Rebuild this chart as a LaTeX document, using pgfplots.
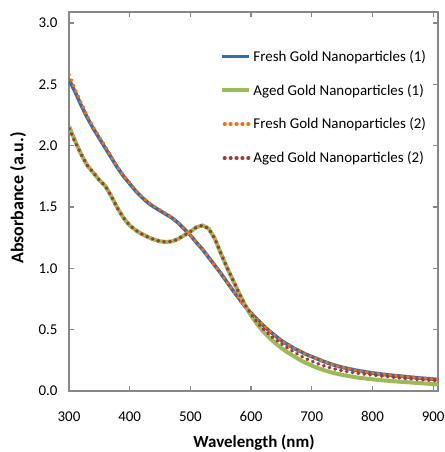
\documentclass[border=0pt]{standalone}
\usepackage{pgfplots}
\pgfplotsset{compat=1.18}
\usepackage{fontspec}
\setmainfont{Carlito}

\definecolor{freshblue}{HTML}{3B69AC}
\definecolor{agedgreen}{HTML}{9BBB59}
\definecolor{freshorange}{HTML}{EE7014}
\definecolor{agedred}{HTML}{A23A3A}
\definecolor{axisgray}{HTML}{878787}

\tikzset{rounddots/.style={line width=3.6bp, line cap=round, dash pattern=on 0.5bp off 5.4bp}}

\begin{document}
\begin{tikzpicture}[x=1bp,y=1bp]
\useasboundingbox (0,0) rectangle (445,452);
\begin{axis}[
  name=ax,
  at={(69bp,61bp)}, anchor=south west,
  scale only axis,
  width=369bp, height=379bp,
  xmin=300, xmax=908,
  ymin=0, ymax=3.09,
  xtick={300,400,...,900},
  ytick={0,0.5,...,3.0},
  y tick label style={/pgf/number format/fixed, /pgf/number format/fixed zerofill, /pgf/number format/precision=1},
  /pgf/number format/assume math mode=true,
  tick label style={font=\fontsize{15}{18}\selectfont, text=black},
  xticklabel shift=17bp,
  yticklabel shift=8bp,
  axis line style={axisgray, line width=1.5bp},
  every tick/.style={axisgray, line width=1.2bp},
  major tick length=5bp,
  tick align=inside,
  legend style={draw=none, fill=none, at={(axis description cs:0.41,0.905)}, anchor=north west,
    font=\fontsize{15}{17}\selectfont, row sep=17.5bp, inner sep=0pt,
    /tikz/every even column/.append style={column sep=2bp}},
  legend cell align=left,
]
% Fresh gold nanoparticles, sample 1
\addplot[freshblue, line width=3.6bp,
  legend image code/.code={\draw[freshblue, line width=3.6bp] (0bp,0bp) -- (27bp,0bp);}]
coordinates {
(300,2.54) (310,2.44) (320,2.33) (330,2.23) (340,2.14) (350,2.06) (360,1.98) (370,1.90)
(380,1.82) (390,1.75) (400,1.69) (410,1.63) (420,1.58) (430,1.535) (440,1.50) (450,1.47)
(460,1.44) (470,1.41) (480,1.37) (490,1.32) (500,1.27) (510,1.21) (520,1.155) (530,1.09)
(540,1.025) (550,0.96) (560,0.89) (570,0.82) (580,0.755) (590,0.69) (600,0.635) (610,0.585)
(620,0.535) (630,0.49) (640,0.45) (650,0.41) (660,0.38) (670,0.35) (680,0.325) (690,0.30)
(700,0.28) (710,0.26) (720,0.24) (730,0.222) (740,0.207) (750,0.193) (775,0.167) (800,0.147)
(825,0.131) (850,0.119) (875,0.107) (900,0.097) (910,0.093)
};
\addlegendentry{Fresh Gold Nanoparticles (1)}
% Aged gold nanoparticles, sample 1
\addplot[agedgreen, line width=4bp,
  legend image code/.code={\draw[agedgreen, line width=4bp] (0bp,0bp) -- (27bp,0bp);}]
coordinates {
(300,2.16) (310,2.04) (320,1.93) (330,1.84) (340,1.78) (350,1.72) (360,1.67) (370,1.585)
(380,1.49) (390,1.41) (400,1.35) (410,1.31) (420,1.28) (430,1.255) (440,1.235) (450,1.22)
(460,1.215) (470,1.22) (480,1.24) (490,1.27) (500,1.30) (510,1.335) (520,1.35) (530,1.325)
(540,1.245) (550,1.125) (560,1.01) (570,0.905) (580,0.80) (590,0.70) (600,0.615) (610,0.545)
(620,0.485) (630,0.435) (640,0.39) (650,0.35) (660,0.315) (670,0.285) (680,0.255) (690,0.23)
(700,0.207) (710,0.187) (720,0.17) (730,0.155) (740,0.142) (750,0.131) (775,0.11) (800,0.095)
(825,0.083) (850,0.074) (875,0.065) (900,0.056) (910,0.053)
};
\addlegendentry{Aged Gold Nanoparticles (1)}
% Fresh gold nanoparticles, sample 2
\addplot[freshorange, rounddots,
  legend image code/.code={\draw[freshorange, rounddots] (2bp,0bp) -- (27bp,0bp);}]
coordinates {
(300,2.58) (310,2.46) (320,2.35) (330,2.24) (340,2.15) (350,2.07) (360,1.99) (370,1.905)
(380,1.825) (390,1.755) (400,1.695) (410,1.635) (420,1.585) (430,1.54) (440,1.505) (450,1.475)
(460,1.445) (470,1.41) (480,1.37) (490,1.32) (500,1.27) (510,1.21) (520,1.155) (530,1.09)
(540,1.025) (550,0.96) (560,0.89) (570,0.82) (580,0.755) (590,0.69) (600,0.635) (610,0.585)
(620,0.535) (630,0.49) (640,0.45) (650,0.41) (660,0.38) (670,0.35) (680,0.325) (690,0.30)
(700,0.28) (710,0.26) (720,0.24) (730,0.222) (740,0.207) (750,0.193) (775,0.167) (800,0.147)
(825,0.131) (850,0.119) (875,0.107) (900,0.097) (910,0.093)
};
\addlegendentry{Fresh Gold Nanoparticles (2)}
% Aged gold nanoparticles, sample 2
\addplot[agedred, rounddots,
  legend image code/.code={\draw[agedred, rounddots] (2bp,0bp) -- (27bp,0bp);}]
coordinates {
(300,2.14) (310,2.03) (320,1.93) (330,1.84) (340,1.78) (350,1.72) (360,1.67) (370,1.585)
(380,1.49) (390,1.41) (400,1.35) (410,1.31) (420,1.28) (430,1.255) (440,1.235) (450,1.22)
(460,1.215) (470,1.22) (480,1.24) (490,1.27) (500,1.30) (510,1.335) (520,1.35) (530,1.325)
(540,1.245) (550,1.125) (560,1.01) (570,0.905) (580,0.80) (590,0.705) (600,0.625) (610,0.56)
(620,0.505) (630,0.46) (640,0.42) (650,0.385) (660,0.35) (670,0.32) (680,0.29) (690,0.265)
(700,0.243) (710,0.223) (720,0.205) (730,0.19) (740,0.177) (750,0.165) (775,0.145) (800,0.13)
(825,0.117) (850,0.104) (875,0.094) (900,0.086) (910,0.083)
};
\addlegendentry{Aged Gold Nanoparticles (2)}
\end{axis}
\node[rotate=90, font=\bfseries\fontsize{18}{21}\selectfont] at (18,254) {Absorbance (a.u.)};
\node[font=\bfseries\fontsize{17}{20}\selectfont] at (254,9) {Wavelength (nm)};
\end{tikzpicture}
\end{document}
